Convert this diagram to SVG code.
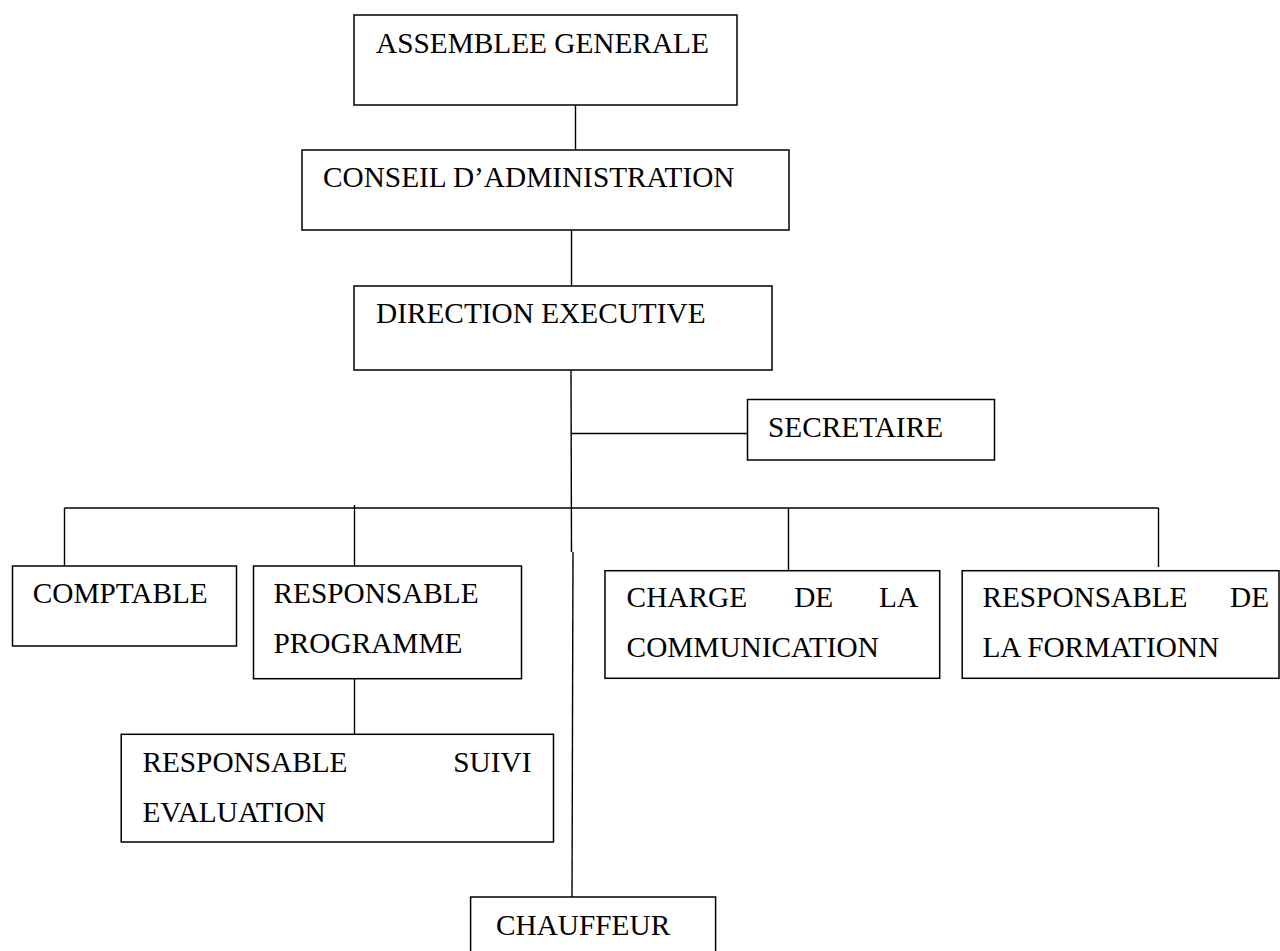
<svg xmlns="http://www.w3.org/2000/svg" width="1280" height="951" viewBox="0 0 1280 951">
<style>
.box{fill:#fff;stroke:#000;stroke-width:1.5}
.ln{fill:none;stroke:#000;stroke-width:1.4}
text{font-family:"Liberation Serif","Times New Roman",serif;font-size:29.3px;fill:#000}
</style>
<rect width="1280" height="951" fill="#fff"/>
<g id="connectors">
<line class="ln" x1="575.5" y1="105" x2="575.5" y2="150"/>
<line class="ln" x1="571.5" y1="230" x2="571.5" y2="286"/>
<polyline class="ln" points="571,370 571.5,552"/>
<polyline class="ln" points="573,552 572,897"/>
<line class="ln" x1="571" y1="433.5" x2="748" y2="433.5"/>
<line class="ln" x1="64.5" y1="508" x2="1158.5" y2="508"/>
<line class="ln" x1="64.5" y1="508" x2="64.5" y2="566"/>
<line class="ln" x1="354.5" y1="505" x2="354.5" y2="566"/>
<line class="ln" x1="788.5" y1="508" x2="788.5" y2="570"/>
<line class="ln" x1="1158.5" y1="508" x2="1158.5" y2="567"/>
<line class="ln" x1="354.5" y1="679" x2="354.5" y2="734"/>
</g>
<g id="assemblee">
<rect class="box" x="354" y="15" width="383" height="90"/>
<text x="376" y="53">ASSEMBLEE GENERALE</text>
</g>
<g id="conseil">
<rect class="box" x="302" y="150" width="487" height="80"/>
<text x="323" y="186.7">CONSEIL D’ADMINISTRATION</text>
</g>
<g id="direction">
<rect class="box" x="354" y="286" width="418" height="84"/>
<text x="376" y="322.7">DIRECTION EXECUTIVE</text>
</g>
<g id="secretaire">
<rect class="box" x="747.5" y="399.5" width="247" height="60.5"/>
<text x="768" y="436.7">SECRETAIRE</text>
</g>
<g id="comptable">
<rect class="box" x="12.5" y="566" width="224" height="80"/>
<text x="32.7" y="603.3">COMPTABLE</text>
</g>
<g id="responsable-programme">
<rect class="box" x="253.5" y="566" width="268" height="112.7"/>
<text x="273.5" y="603.3">RESPONSABLE</text>
<text x="273.5" y="653.3">PROGRAMME</text>
</g>
<g id="charge-communication">
<rect class="box" x="605" y="570.7" width="334.7" height="107.6"/>
<text x="626.6" y="607.3">CHARGE</text>
<text x="794.2" y="607.3">DE</text>
<text x="879" y="607.3">LA</text>
<text x="626.6" y="657.3">COMMUNICATION</text>
</g>
<g id="responsable-formation">
<rect class="box" x="962.2" y="570.7" width="316.8" height="107.6"/>
<text x="982.4" y="607.3">RESPONSABLE</text>
<text x="1230" y="607.3">DE</text>
<text x="982.4" y="657.3">LA FORMATIONN</text>
</g>
<g id="responsable-suivi-evaluation">
<rect class="box" x="121.2" y="734.3" width="432.3" height="107.7"/>
<text x="142.4" y="771.7">RESPONSABLE</text>
<text x="453.3" y="771.7">SUIVI</text>
<text x="142.4" y="821.7">EVALUATION</text>
</g>
<g id="chauffeur">
<rect class="box" x="470.6" y="897" width="245" height="70"/>
<text x="496" y="935">CHAUFFEUR</text>
</g>
</svg>
